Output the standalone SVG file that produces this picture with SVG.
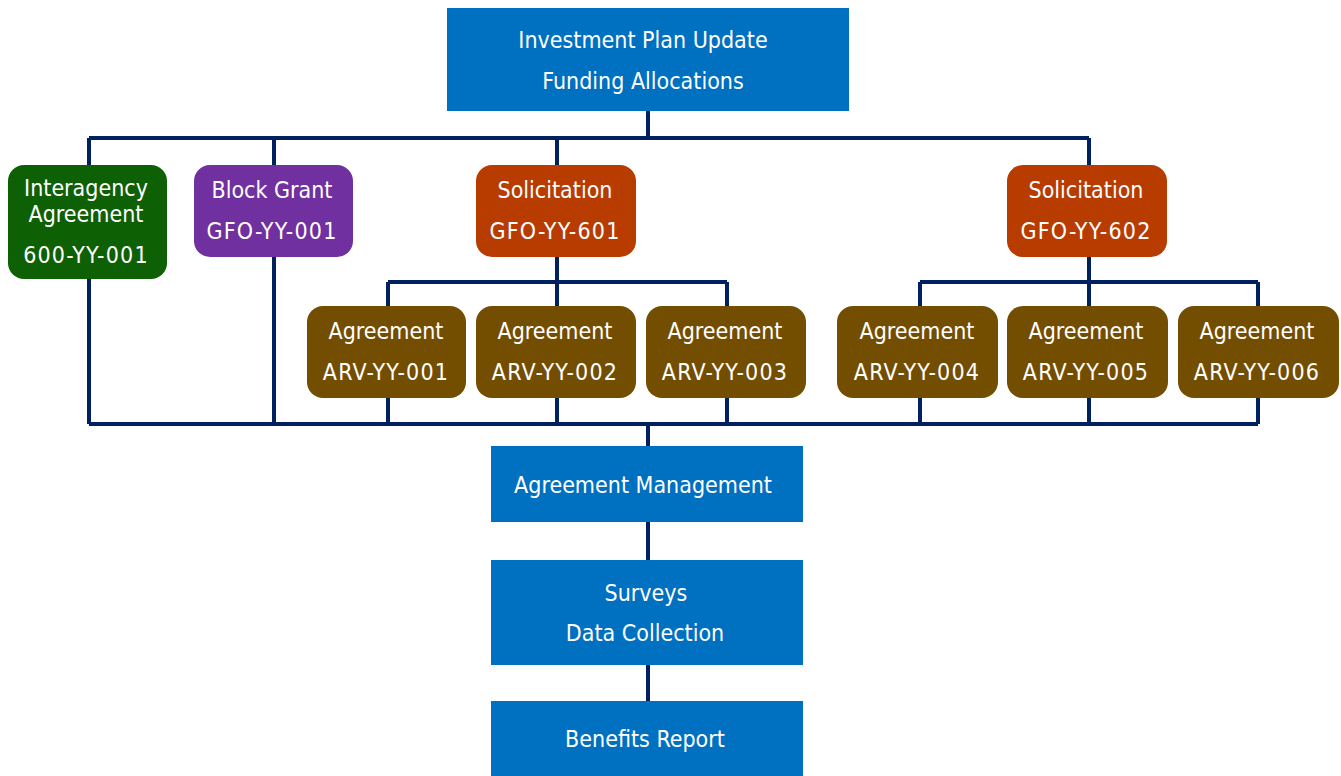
<svg xmlns="http://www.w3.org/2000/svg" width="1341" height="776" viewBox="0 0 1341 776">
<style>
.t{font-family:"DejaVu Sans Condensed","DejaVu Sans",sans-serif;font-size:23px;fill:#fff;text-anchor:middle}
.id{letter-spacing:1.2px}
.blue{fill:#0070C0}
.c{fill:none;stroke:#002060;stroke-width:4}
</style>
<rect width="1341" height="776" fill="#fff"/>
<g id="connectors">
<path class="c" d="M648,111V138M89,138H1089M89,138V165M274,138V165M557,138V165M1089,138V165"/>
<path class="c" d="M557,257V282M388,282H727M388,282V306M557,282V306M727,282V306"/>
<path class="c" d="M1089,257V282M920,282H1258M920,282V306M1089,282V306M1258,282V306"/>
<path class="c" d="M89,279V424M274,257V424M388,398V424M557,398V424M727,398V424M920,398V424M1089,398V424M1258,398V424M89,424H1258M648,424V446"/>
<path class="c" d="M648,522V560M648,665V701"/>
</g>
<g id="top"><rect class="blue" x="447" y="8" width="402" height="103"/><text class="t" x="643" y="48">Investment Plan Update</text><text class="t" x="643" y="89">Funding Allocations</text></g>
<g id="interagency"><rect x="8" y="165" width="159" height="114" rx="16" fill="#0E6004"/><text class="t" x="86" y="196">Interagency</text><text class="t" x="86" y="222">Agreement</text><text class="t id" x="86" y="263">600-YY-001</text></g>
<g id="blockgrant"><rect x="194" y="165" width="159" height="92" rx="16" fill="#7030A0"/><text class="t" x="272" y="198">Block Grant</text><text class="t id" x="272" y="239">GFO-YY-001</text></g>
<g id="sol601"><rect x="476" y="165" width="160" height="92" rx="16" fill="#B83C00"/><text class="t" x="555" y="198">Solicitation</text><text class="t id" x="555" y="239">GFO-YY-601</text></g>
<g id="sol602"><rect x="1007" y="165" width="160" height="92" rx="16" fill="#B83C00"/><text class="t" x="1086" y="198">Solicitation</text><text class="t id" x="1086" y="239">GFO-YY-602</text></g>
<g id="arv001"><rect x="307" y="306" width="159" height="92" rx="16" fill="#744E00"/><text class="t" x="386" y="339">Agreement</text><text class="t id" x="386" y="380">ARV-YY-001</text></g>
<g id="arv002"><rect x="476" y="306" width="160" height="92" rx="16" fill="#744E00"/><text class="t" x="555" y="339">Agreement</text><text class="t id" x="555" y="380">ARV-YY-002</text></g>
<g id="arv003"><rect x="646" y="306" width="160" height="92" rx="16" fill="#744E00"/><text class="t" x="725" y="339">Agreement</text><text class="t id" x="725" y="380">ARV-YY-003</text></g>
<g id="arv004"><rect x="837" y="306" width="161" height="92" rx="16" fill="#744E00"/><text class="t" x="917" y="339">Agreement</text><text class="t id" x="917" y="380">ARV-YY-004</text></g>
<g id="arv005"><rect x="1007" y="306" width="161" height="92" rx="16" fill="#744E00"/><text class="t" x="1086" y="339">Agreement</text><text class="t id" x="1086" y="380">ARV-YY-005</text></g>
<g id="arv006"><rect x="1178" y="306" width="161" height="92" rx="16" fill="#744E00"/><text class="t" x="1257" y="339">Agreement</text><text class="t id" x="1257" y="380">ARV-YY-006</text></g>
<g id="mgmt"><rect class="blue" x="491" y="446" width="312" height="76"/><text class="t" x="643" y="493">Agreement Management</text></g>
<g id="surveys"><rect class="blue" x="491" y="560" width="312" height="105"/><text class="t" x="646" y="601">Surveys</text><text class="t" x="645" y="641">Data Collection</text></g>
<g id="benefits"><rect class="blue" x="491" y="701" width="312" height="75"/><text class="t" x="645" y="747">Benefits Report</text></g>
</svg>
